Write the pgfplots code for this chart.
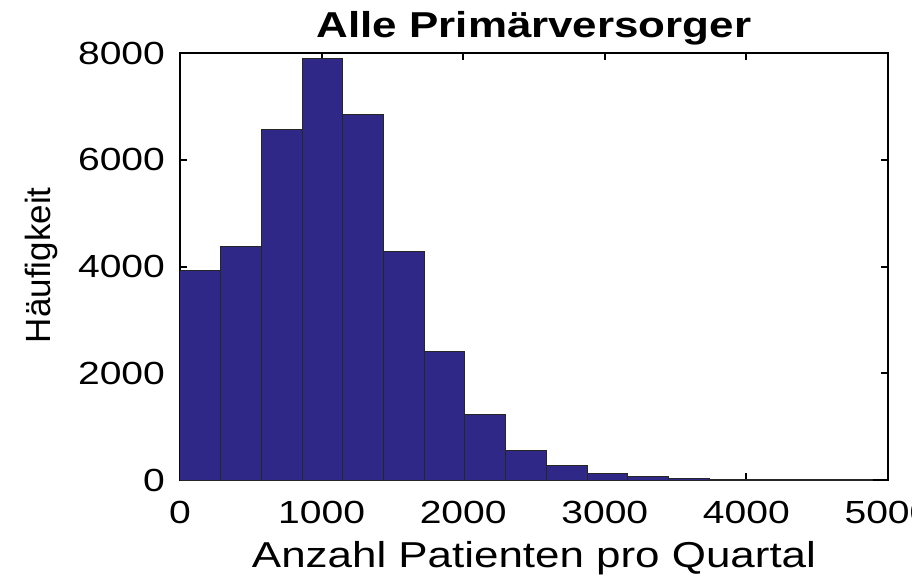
\documentclass[border=0pt]{standalone}
\usepackage{fontspec}
\setmainfont[FakeStretch=1.22]{Liberation Sans}
\newfontfamily\yfont{Liberation Sans}
\usepackage{pgfplots}
\pgfplotsset{compat=1.18}
\definecolor{barblue}{RGB}{48,40,135}
\begin{document}
\begin{tikzpicture}
\path[use as bounding box] (-90pt,-50pt) rectangle (366pt,240pt);
\clip (-90pt,-50pt) rectangle (366pt,240pt);
\begin{axis}[
  at={(0,0)}, anchor=south west,
  scale only axis, width=354pt, height=213.5pt,
  xmin=0, xmax=5000, ymin=0, ymax=8000,
  xtick={0,1000,...,5000}, ytick={0,2000,...,8000},
  tick align=inside, major tick length=3.5pt,
  axis line style={line width=1pt},
  every tick/.style={black, line width=1pt},
  tick label style={font=\fontsize{16}{19}\selectfont},
  xticklabel style={yshift=-7pt},
  yticklabel style={xshift=-4pt},
  /pgf/number format/assume math mode=true,
  /pgf/number format/1000 sep={},
  title={\textbf{Alle Primärversorger}},
  title style={font=\fontsize{18}{21}\selectfont, at={(axis description cs:0.5,1.035)}, anchor=base, yshift=-5.5pt},
  xlabel={Anzahl Patienten pro Quartal},
  xlabel style={font=\fontsize{18}{21}\selectfont, at={(axis description cs:0.5,-0.206)}, anchor=base},
  ylabel={\yfont Häufigkeit},
  ylabel style={font=\fontsize{17.5}{21}\selectfont, at={(axis description cs:-0.195,0.503)}, anchor=center},
]
\addplot[ybar interval, fill=barblue, draw=black!85, line width=0.5pt] coordinates {
(0,3930) (287.5,4370) (575,6570) (862.5,7900) (1150,6840) (1437.5,4290)
(1725,2400) (2012.5,1230) (2300,560) (2587.5,270) (2875,130) (3162.5,60)
(3450,30) (3737.5,15) (4025,8) (4312.5,4) (4600,2) (4887.5,0)
};
\end{axis}
\end{tikzpicture}
\end{document}
